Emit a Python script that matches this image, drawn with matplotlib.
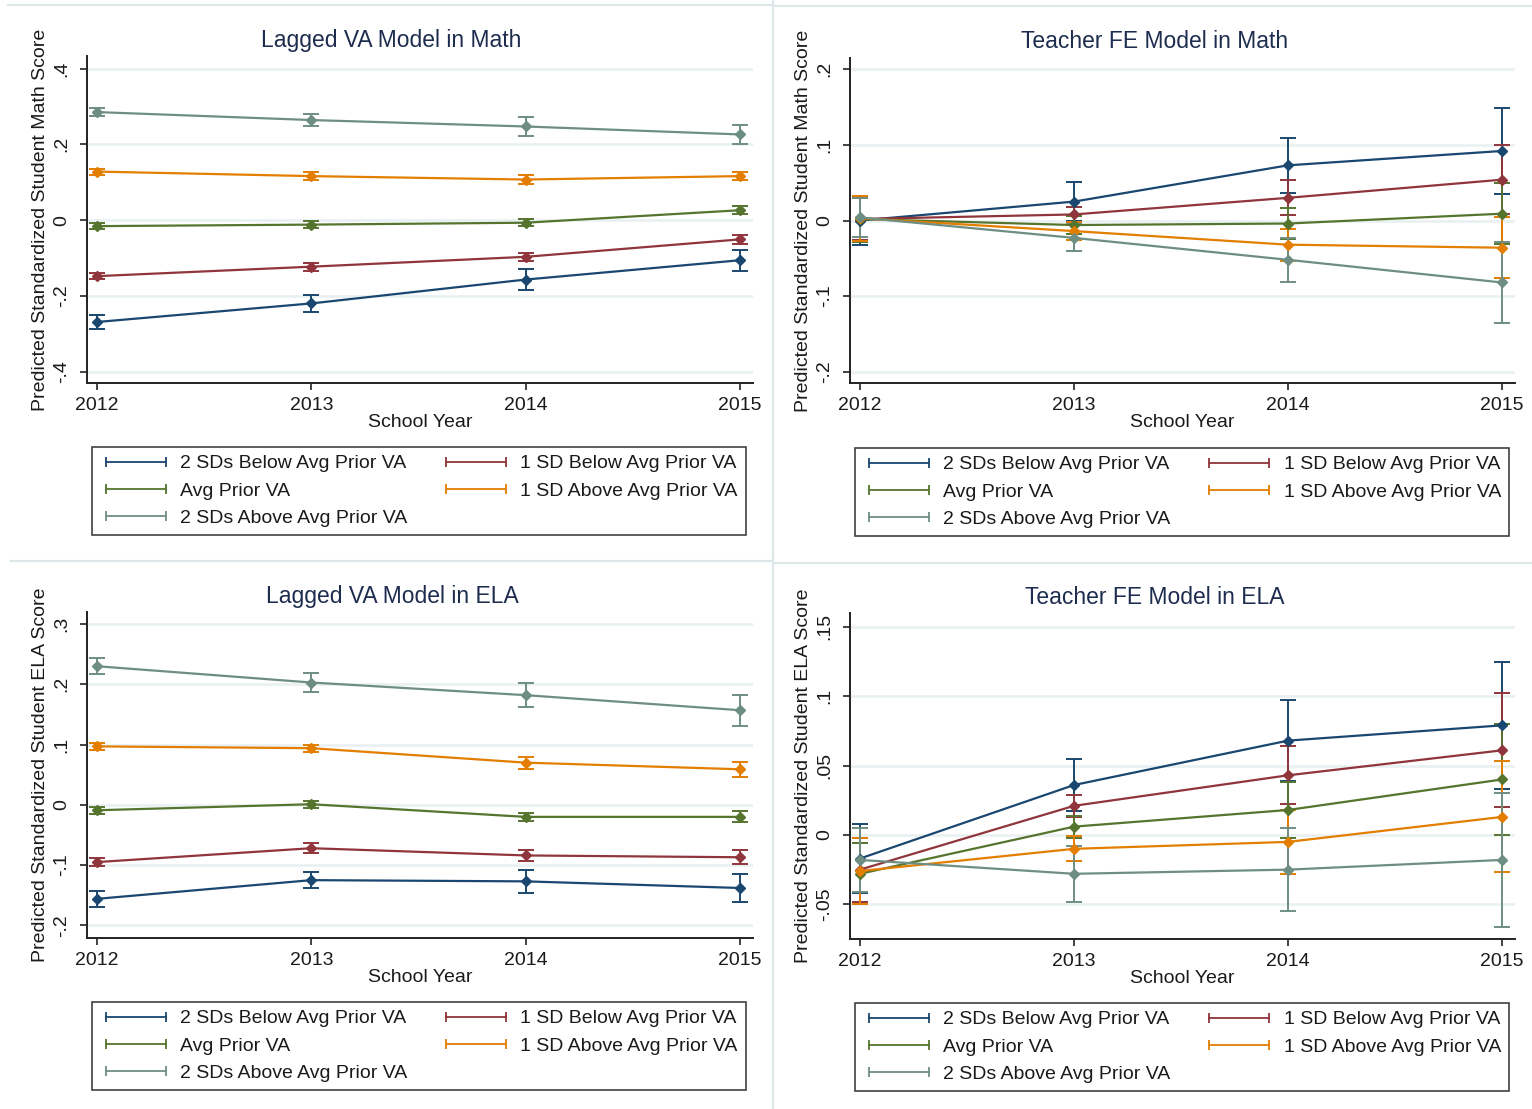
'''
marginsplot-style panels: predicted standardized scores by school year
for students grouped by their teacher's prior value-added
'''

import matplotlib
matplotlib.use('Agg')
import matplotlib.pyplot as plt
from matplotlib.lines import Line2D
from matplotlib.ticker import FuncFormatter
from matplotlib import font_manager

YEARS = [2012, 2013, 2014, 2015]

GROUPS = ['2 SDs Below Avg Prior VA', '1 SD Below Avg Prior VA',
          'Avg Prior VA', '1 SD Above Avg Prior VA',
          '2 SDs Above Avg Prior VA']

# stata s2color: navy, maroon, forest_green, dkorange, teal
COLORS = ['#1a476f', '#90353b', '#55752f', '#e37e00', '#6e8e84']

# point estimates, one row per group
LAG_MATH = [[-0.269, -0.220, -0.157, -0.106],
            [-0.148, -0.123, -0.097, -0.051],
            [-0.016, -0.012, -0.007, 0.026],
            [0.128, 0.116, 0.107, 0.116],
            [0.285, 0.264, 0.247, 0.226]]
# half widths of the 95% intervals
LAG_MATH_CI = [[0.019, 0.022, 0.028, 0.028],
               [0.008, 0.011, 0.010, 0.011],
               [0.007, 0.009, 0.009, 0.011],
               [0.008, 0.010, 0.011, 0.011],
               [0.011, 0.017, 0.024, 0.025]]

FE_MATH = [[0.000, 0.025, 0.073, 0.092],
           [0.002, 0.008, 0.030, 0.054],
           [0.002, -0.006, -0.004, 0.009],
           [0.003, -0.014, -0.032, -0.036],
           [0.004, -0.023, -0.052, -0.082]]
FE_MATH_CI = [[0.032, 0.026, 0.036, 0.057],
              [0.028, 0.010, 0.023, 0.046],
              [0.030, 0.012, 0.021, 0.040],
              [0.030, 0.012, 0.021, 0.040],
              [0.026, 0.018, 0.029, 0.053]]

LAG_ELA = [[-0.156, -0.125, -0.127, -0.138],
           [-0.095, -0.072, -0.084, -0.087],
           [-0.009, 0.001, -0.020, -0.020],
           [0.097, 0.094, 0.070, 0.059],
           [0.230, 0.203, 0.182, 0.157]]
LAG_ELA_CI = [[0.013, 0.013, 0.019, 0.024],
              [0.007, 0.008, 0.009, 0.012],
              [0.006, 0.006, 0.007, 0.009],
              [0.006, 0.006, 0.010, 0.012],
              [0.013, 0.016, 0.020, 0.026]]

FE_ELA = [[-0.017, 0.036, 0.068, 0.079],
          [-0.025, 0.021, 0.043, 0.061],
          [-0.028, 0.006, 0.018, 0.040],
          [-0.026, -0.010, -0.005, 0.013],
          [-0.018, -0.028, -0.025, -0.018]]
FE_ELA_CI = [[0.025, 0.019, 0.029, 0.046],
             [0.023, 0.008, 0.021, 0.041],
             [0.022, 0.008, 0.020, 0.040],
             [0.024, 0.009, 0.023, 0.040],
             [0.023, 0.020, 0.030, 0.048]]

LAG_MATH_TICKS = [-0.4, -0.2, 0, 0.2, 0.4]
FE_MATH_TICKS = [-0.2, -0.1, 0, 0.1, 0.2]
LAG_ELA_TICKS = [-0.2, -0.1, 0, 0.1, 0.2, 0.3]
FE_ELA_TICKS = [-0.05, 0, 0.05, 0.1, 0.15]

W, H = 1532, 1109

installed = {f.name for f in font_manager.fontManager.ttflist}
NARROW = 'Liberation Sans Narrow' if 'Liberation Sans Narrow' in installed \
    else 'Liberation Sans'
REGULAR = 'Liberation Sans'
TITLE_COLOR = '#1e2d4f'
TEXT_COLOR = '#1a1a1a'


def fx(px):
    return px / W


def fy(py):
    return 1 - py / H


def stata_num(v, _pos=None):
    # stata drops the leading zero: .2, -.05
    if abs(v) < 1e-12:
        return '0'
    s = f'{v:g}'
    return s.replace('0.', '.')


def panel(fig, box, est, ci, ticks, ylim, title, title_x, ylabel,
          legend_box):
    left, top, right, bottom = box
    ax = fig.add_axes([fx(left), fy(bottom), fx(right - left),
                       (bottom - top) / H])
    for row, half, color in zip(est, ci, COLORS):
        ax.errorbar(YEARS, row, yerr=half, color=color, lw=1.6,
                    elinewidth=1.4, capsize=6, capthick=1.4,
                    marker='D', ms=5.5, zorder=3)
    x_pad_l = (97 - 87) / 214
    x_pad_r = (753 - 740) / 214
    ax.set_xlim(YEARS[0] - x_pad_l, YEARS[-1] + x_pad_r)
    ax.set_ylim(*ylim)
    ax.set_xticks(YEARS)
    ax.set_xticklabels([str(y) for y in YEARS], fontfamily=NARROW,
                       fontsize=14, color=TEXT_COLOR)
    ax.set_yticks(ticks)
    ax.yaxis.set_major_formatter(FuncFormatter(stata_num))
    for lab in ax.get_yticklabels():
        lab.set_rotation(90)
        lab.set_va('center')
        lab.set_fontfamily(NARROW)
        lab.set_fontsize(14)
        lab.set_color(TEXT_COLOR)
    ax.tick_params(direction='out', length=5, width=1.2, color='#222222',
                   pad=5)
    ax.tick_params(axis='y', pad=7)
    ax.grid(axis='y', color='#e8f0f2', lw=1.8, zorder=0)
    ax.set_axisbelow(True)
    for side in ('top', 'right'):
        ax.spines[side].set_visible(False)
    for side in ('left', 'bottom'):
        ax.spines[side].set_linewidth(1.4)
        ax.spines[side].set_color('#222222')
    ax.set_xlabel('School Year', fontfamily=NARROW, fontsize=14,
                  labelpad=0, color=TEXT_COLOR)
    ax.set_ylabel(ylabel, fontfamily=REGULAR, fontsize=14, labelpad=3,
                  color=TEXT_COLOR)
    fig.text(fx(title_x), fy(top - 16), title, ha='center', va='center',
             fontfamily=NARROW, fontsize=16.5, color=TITLE_COLOR)

    # legend keys look like range caps: |------|
    handles = [Line2D([], [], color=c, lw=1.3, marker='|', ms=7,
                      mew=1.3) for c in COLORS]
    order = [0, 2, 4, 1, 3]
    lx, ly = legend_box
    leg = fig.legend([handles[i] for i in order],
                     [GROUPS[i] for i in order], ncol=2,
                     loc='upper left', bbox_to_anchor=(fx(lx), fy(ly)),
                     bbox_transform=fig.transFigure, frameon=True,
                     fancybox=False, edgecolor='#111111', numpoints=2,
                     handlelength=3.7, handletextpad=0.45,
                     columnspacing=1.65, labelspacing=0.5, borderpad=0.4,
                     borderaxespad=0,
                     prop={'family': REGULAR, 'size': 14})
    for txt in leg.get_texts():
        txt.set_color(TEXT_COLOR)
    leg.get_frame().set_linewidth(1.2)
    return ax


fig = plt.figure(figsize=(W / 100, H / 100), dpi=100)
fig.patch.set_facecolor('white')

# light borders between the four graph regions
BORDER = '#dde7ea'
for xs, ys in [((8, 772), (5, 5)), ((774, 1532), (6, 6)),
               ((11, 772), (561, 561)), ((774, 1532), (563, 563)),
               ((773, 773), (0, 1109))]:
    fig.add_artist(Line2D([fx(xs[0]), fx(xs[1])], [fy(ys[0]), fy(ys[1])],
                          color=BORDER, lw=1.6))

panel(fig, (87, 56, 753, 383), LAG_MATH, LAG_MATH_CI, LAG_MATH_TICKS,
      (-0.43, 0.433), 'Lagged VA Model in Math', 391,
      'Predicted Standardized Student Math Score', (92, 447))
panel(fig, (850, 58, 1515, 383), FE_MATH, FE_MATH_CI, FE_MATH_TICKS,
      (-0.215, 0.215), 'Teacher FE Model in Math', 1155,
      'Predicted Standardized Student Math Score', (855, 448))
panel(fig, (87, 612, 753, 938), LAG_ELA, LAG_ELA_CI, LAG_ELA_TICKS,
      (-0.221, 0.32), 'Lagged VA Model in ELA', 392,
      'Predicted Standardized Student ELA Score', (92, 1002))
panel(fig, (850, 613, 1515, 939), FE_ELA, FE_ELA_CI, FE_ELA_TICKS,
      (-0.075, 0.16), 'Teacher FE Model in ELA', 1155,
      'Predicted Standardized Student ELA Score', (855, 1003))

fig.savefig('out.png', dpi=100)
